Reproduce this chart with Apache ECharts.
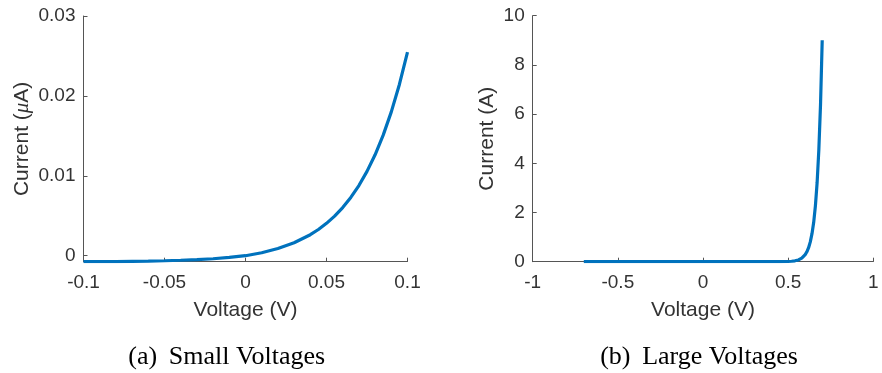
<!DOCTYPE html>
<html>
<head>
<meta charset="utf-8">
<script src="https://cdn.jsdelivr.net/npm/echarts@6/dist/echarts.min.js"></script>
<style>
  html, body { margin: 0; padding: 0; background: #fff; }
  #main { width: 882px; height: 373px; }
</style>
</head>
<body>
<div id="main"></div>
<script>
// (a) small voltages, current in uA
var smallV = [-0.1, -0.09, -0.08, -0.07, -0.06, -0.05, -0.04, -0.03, -0.02, -0.01, 0,
  0.01, 0.02, 0.03, 0.04, 0.045, 0.05, 0.055, 0.06, 0.065, 0.07, 0.075, 0.08, 0.085, 0.09, 0.095, 0.1];
var smallI = [-0.00075, -0.00074, -0.00073, -0.00070, -0.00067, -0.00063, -0.00057, -0.00049, -0.00038, -0.00022, 0,
  0.000373, 0.000894, 0.00162, 0.00263, 0.00328, 0.00405, 0.00496, 0.00603, 0.00729, 0.00878, 0.01055,
  0.01263, 0.01509, 0.0180, 0.02143, 0.02549];
var smallXTicks = [-0.1, -0.05, 0, 0.05, 0.1];
var smallYTicks = [0, 0.01, 0.02, 0.03];

// (b) large voltages, current in A
var largeV = [-0.7, -0.5, -0.3, -0.1, 0.1, 0.3, 0.4, 0.45, 0.5, 0.52, 0.54, 0.56, 0.58,
  0.6, 0.61, 0.62, 0.63, 0.64, 0.65, 0.66, 0.67, 0.68, 0.69, 0.7];
var largeI = [0, 0, 0, 0, 0, 0, 0.0003, 0.0016, 0.009, 0.018, 0.036, 0.072, 0.144,
  0.286, 0.404, 0.57, 0.805, 1.14, 1.6, 2.27, 3.2, 4.52, 6.37, 9.0];
var largeXTicks = [-1, -0.5, 0, 0.5, 1];
var largeYTicks = [0, 2, 4, 6, 8, 10];

var captions = ['(a) \u2009Small Voltages', '(b) \u2009Large Voltages'];

var FONT = 'Liberation Sans, Arial, Helvetica, sans-serif';
var TXT = '#333333';
var AX = '#555555';
var BLUE = '#0072BD';

function pairs(xs, ys) {
  return xs.map(function (x, i) { return [x, ys[i]]; });
}

function xAx(idx, min, max, ticks) {
  return {
    type: 'value', gridIndex: idx, min: min, max: max,
    name: 'Voltage (V)', nameLocation: 'middle', nameGap: 38,
    nameTextStyle: { color: TXT, fontSize: 21, fontFamily: FONT },
    axisLine: { onZero: false, lineStyle: { color: AX, width: 1 } },
    axisTick: { inside: true, length: 4, customValues: ticks, lineStyle: { color: AX } },
    axisLabel: { customValues: ticks, color: TXT, fontSize: 19, fontFamily: FONT, margin: 12 },
    splitLine: { show: false }
  };
}

function yAx(idx, min, max, ticks, name, gap, rich) {
  var o = {
    type: 'value', gridIndex: idx, min: min, max: max,
    name: name, nameLocation: 'middle', nameGap: gap,
    nameTextStyle: { color: TXT, fontSize: 21, fontFamily: FONT },
    axisLine: { show: true, onZero: false, lineStyle: { color: AX, width: 1 } },
    axisTick: { show: true, inside: true, length: 4, customValues: ticks, lineStyle: { color: AX } },
    axisLabel: { customValues: ticks, color: TXT, fontSize: 19, fontFamily: FONT, margin: 8 },
    splitLine: { show: false }
  };
  if (rich) o.nameTextStyle.rich = rich;
  return o;
}

var chart = echarts.init(document.getElementById('main'), null, { renderer: 'canvas' });

var option = {
  backgroundColor: '#fff',
  animation: false,
  grid: [
    { left: 83.5, top: 16, width: 324, height: 245.7 },
    { left: 532.7, top: 15.7, width: 340.6, height: 246 }
  ],
  xAxis: [
    xAx(0, -0.1, 0.1, smallXTicks),
    xAx(1, -1, 1, largeXTicks)
  ],
  yAxis: [
    yAx(0, -0.00075, 0.03, smallYTicks, '{n|Current (}{i|\u03bc}{n|A)}', 51, {
      n: { color: TXT, fontSize: 21, fontFamily: FONT },
      i: { color: TXT, fontSize: 21, fontFamily: 'Liberation Serif, Times New Roman, serif', fontStyle: 'italic' }
    }),
    yAx(1, 0, 10, largeYTicks, 'Current (A)', 35)
  ],
  series: [
    {
      type: 'line', xAxisIndex: 0, yAxisIndex: 0,
      data: pairs(smallV, smallI),
      showSymbol: false,
      lineStyle: { color: BLUE, width: 3.2 }
    },
    {
      type: 'line', xAxisIndex: 1, yAxisIndex: 1,
      data: pairs(largeV, largeI),
      showSymbol: false,
      lineStyle: { color: BLUE, width: 3.2 }
    }
  ],
  graphic: [
    { type: 'text', x: 226.7, y: 357,
      style: { text: captions[0], fill: '#000', font: '26px Liberation Serif, Times New Roman, serif', textAlign: 'center', textVerticalAlign: 'middle' } },
    { type: 'text', x: 699, y: 357,
      style: { text: captions[1], fill: '#000', font: '26px Liberation Serif, Times New Roman, serif', textAlign: 'center', textVerticalAlign: 'middle' } }
  ]
};

chart.setOption(option);
</script>
</body>
</html>
